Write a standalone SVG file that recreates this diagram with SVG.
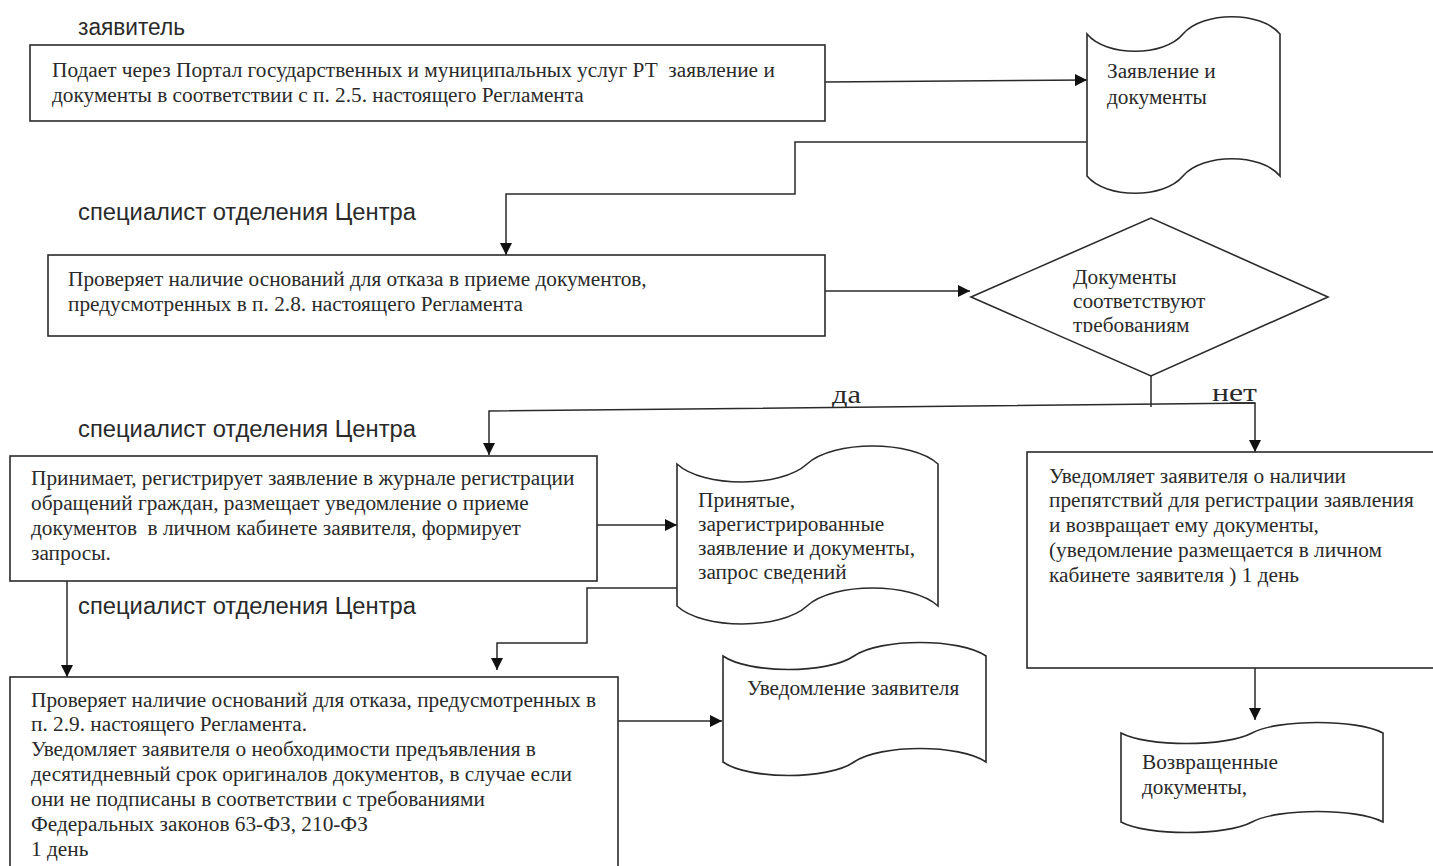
<svg xmlns="http://www.w3.org/2000/svg" width="1433" height="866" viewBox="0 0 1433 866">
<style>
.bg{fill:#ffffff}
.box{fill:#ffffff;stroke:#2a2a2a;stroke-width:1.6}
.doc{fill:#ffffff;stroke:#2a2a2a;stroke-width:1.6}
.conn{fill:none;stroke:#2a2a2a;stroke-width:1.5}
.t{font-family:"Liberation Serif","Times New Roman",serif;font-size:21.3px;fill:#2a2a2a}
.lbl{font-family:"Liberation Sans",Arial,sans-serif;font-size:23px;fill:#2a2a2a}
.yn{font-family:"Liberation Serif","Times New Roman",serif;font-size:25px;fill:#2a2a2a}
</style>
<defs>
<marker id="arr" viewBox="0 0 12 12" refX="12" refY="6" markerWidth="12" markerHeight="12" markerUnits="userSpaceOnUse" orient="auto">
<path d="M0,0 L12,6 L0,12 Z" fill="#111"/>
</marker>
<clipPath id="dclip"><rect x="960" y="210" width="380" height="122"/></clipPath>
</defs>
<rect class="bg" x="0" y="0" width="1433" height="866"/>

<g id="labels">
<text class="lbl" x="78" y="35" textLength="107" lengthAdjust="spacingAndGlyphs">заявитель</text>
<text class="lbl" x="78" y="220" textLength="338" lengthAdjust="spacingAndGlyphs">специалист отделения Центра</text>
<text class="lbl" x="78" y="437" textLength="338" lengthAdjust="spacingAndGlyphs">специалист отделения Центра</text>
<text class="lbl" x="78" y="614" textLength="338" lengthAdjust="spacingAndGlyphs">специалист отделения Центра</text>
<text class="yn" x="832" y="403" textLength="29" lengthAdjust="spacingAndGlyphs">да</text>
<text class="yn" x="1212" y="401" textLength="45" lengthAdjust="spacingAndGlyphs">нет</text>
</g>

<g id="connectors">
<line class="conn" x1="825" y1="82" x2="1087" y2="80" marker-end="url(#arr)"/>
<polyline class="conn" points="1087,142 795,142 795,194 506,194 506,255" marker-end="url(#arr)"/>
<line class="conn" x1="825" y1="291" x2="970" y2="291" marker-end="url(#arr)"/>
<line class="conn" x1="1151" y1="376" x2="1151" y2="407"/>
<polyline class="conn" points="1255,403 489,411 489,455" marker-end="url(#arr)"/>
<polyline class="conn" points="1230,403 1255,403 1255,452" marker-end="url(#arr)"/>
<line class="conn" x1="597" y1="525" x2="677" y2="525" marker-end="url(#arr)"/>
<line class="conn" x1="67" y1="581" x2="67" y2="677" marker-end="url(#arr)"/>
<polyline class="conn" points="677,588 587,588 587,643 497,643 497,670" marker-end="url(#arr)"/>
<line class="conn" x1="610" y1="721" x2="722" y2="721" marker-end="url(#arr)"/>
<line class="conn" x1="1255" y1="668" x2="1255" y2="720" marker-end="url(#arr)"/>
</g>

<g id="n1">
<rect class="box" x="30" y="45" width="795" height="76"/>
<text class="t" x="52" y="77" xml:space="preserve">Подает через Портал государственных и муниципальных услуг РТ  заявление и</text>
<text class="t" x="52" y="102">документы в соответствии с п. 2.5. настоящего Регламента</text>
</g>

<g id="d1">
<path class="doc" d="M1087,34 C1106,57 1164,57 1183,34 C1203,11 1261,11 1280,34 L1280,176 C1261,153 1203,153 1183,176 C1164,199 1106,199 1087,176 Z"/>
<text class="t" x="1107" y="78">Заявление и</text>
<text class="t" x="1107" y="104">документы</text>
</g>

<g id="n2">
<rect class="box" x="48" y="255" width="777" height="81"/>
<text class="t" x="68" y="286">Проверяет наличие оснований для отказа в приеме документов,</text>
<text class="t" x="68" y="311">предусмотренных в п. 2.8. настоящего Регламента</text>
</g>

<g id="decision">
<polygon class="box" points="971,297 1151,218 1328,297 1151,376"/>
<g clip-path="url(#dclip)">
<text class="t" x="1073" y="284">Документы</text>
<text class="t" x="1073" y="308">соответствуют</text>
<text class="t" x="1073" y="332">требованиям</text>
</g>
</g>

<g id="n3">
<rect class="box" x="10" y="456" width="587" height="125"/>
<text class="t" x="31" y="485">Принимает, регистрирует заявление в журнале регистрации</text>
<text class="t" x="31" y="510">обращений граждан, размещает уведомление о приеме</text>
<text class="t" x="31" y="535" xml:space="preserve">документов  в личном кабинете заявителя, формирует</text>
<text class="t" x="31" y="560">запросы.</text>
</g>

<g id="d2">
<path class="doc" d="M677,464 C703,488 781,488 807,464 C833,440 912,440 938,464 L938,606 C912,582 833,582 807,606 C781,630 703,630 677,606 Z"/>
<text class="t" x="698" y="507">Принятые,</text>
<text class="t" x="698" y="531">зарегистрированные</text>
<text class="t" x="698" y="555">заявление и документы,</text>
<text class="t" x="698" y="579">запрос сведений</text>
</g>

<g id="n4">
<rect class="box" x="10" y="677" width="608" height="200"/>
<text class="t" x="31" y="707">Проверяет наличие оснований для отказа, предусмотренных в</text>
<text class="t" x="31" y="731">п. 2.9. настоящего Регламента.</text>
<text class="t" x="31" y="756">Уведомляет заявителя о необходимости предъявления в</text>
<text class="t" x="31" y="781">десятидневный срок оригиналов документов, в случае если</text>
<text class="t" x="31" y="806">они не подписаны в соответствии с требованиями</text>
<text class="t" x="31" y="831">Федеральных законов 63-ФЗ, 210-ФЗ</text>
<text class="t" x="31" y="856">1 день</text>
</g>

<g id="d3">
<path class="doc" d="M723,656 C749,674 828,674 854,656 C880,638 960,638 986,656 L986,762 C960,744 880,744 854,762 C828,780 749,780 723,762 Z"/>
<text class="t" x="747" y="695">Уведомление заявителя</text>
</g>

<g id="n5">
<rect class="box" x="1027" y="452" width="420" height="216"/>
<text class="t" x="1049" y="483">Уведомляет заявителя о наличии</text>
<text class="t" x="1049" y="507">препятствий для регистрации заявления</text>
<text class="t" x="1049" y="532">и возвращает ему документы,</text>
<text class="t" x="1049" y="557">(уведомление размещается в личном</text>
<text class="t" x="1049" y="582">кабинете заявителя ) 1 день</text>
</g>

<g id="d4">
<path class="doc" d="M1121,733 C1147,747 1226,747 1252,733 C1278,719 1357,719 1383,733 L1383,822 C1357,808 1278,808 1252,822 C1226,836 1147,836 1121,822 Z"/>
<text class="t" x="1142" y="769">Возвращенные</text>
<text class="t" x="1142" y="794">документы,</text>
</g>
</svg>
